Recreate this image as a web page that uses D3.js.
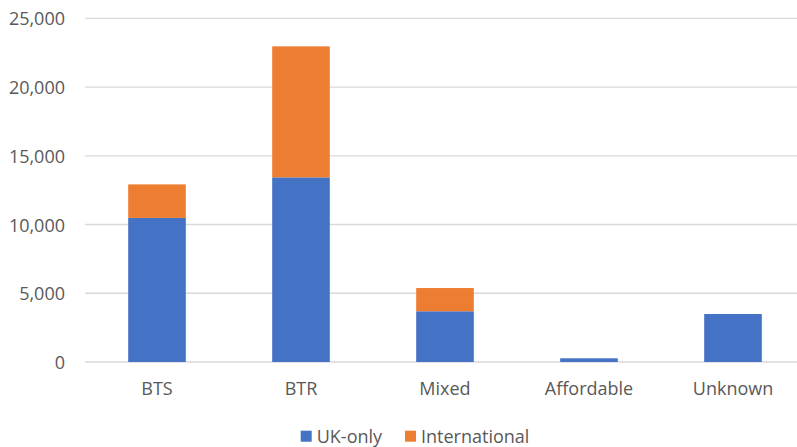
<!DOCTYPE html>
<html><head><meta charset="utf-8">
<script src="https://cdn.jsdelivr.net/npm/d3@7"></script>
<style>body{margin:0;background:#fff}svg{display:block}</style>
</head><body><svg id="c" width="797" height="447"></svg>
<script>
const categories = ["BTS", "BTR", "Mixed", "Affordable", "Unknown"];
const seriesNames = ["UK-only", "International"];
const ukOnly = [10480, 13430, 3690, 270, 3490];
const international = [2440, 9530, 1690, 0, 0];
const yTicks = [0, 5000, 10000, 15000, 20000, 25000];
const colors = ["#4472c4", "#ed7d31"];

const svg = d3.select("#c");
const font = "'Open Sans', 'Noto Sans', sans-serif";
const x = d3.scaleBand().domain(categories).range([85, 805]).paddingInner(0.6).paddingOuter(0.3);
const y = d3.scaleLinear().domain([0, 25000]).range([362, 18.3]);

const rows = categories.map((c, i) => ({cat: c, "UK-only": ukOnly[i], "International": international[i]}));
const stacked = d3.stack().keys(seriesNames)(rows);

// gridlines
svg.append("g").selectAll("line").data(yTicks).join("line")
  .attr("x1", 85).attr("x2", 797)
  .attr("y1", d => y(d)).attr("y2", d => y(d))
  .attr("stroke", "#d9d9d9").attr("stroke-width", 1.3);

// y axis labels
const yAxis = d3.axisLeft(y).tickValues(yTicks).tickFormat(d3.format(",")).tickSize(0).tickPadding(0);
const ya = svg.append("g").attr("transform", "translate(65,0)").call(yAxis);
ya.select(".domain").remove();
ya.selectAll("text").attr("font-family", font).attr("font-size", 18).attr("fill", "#595959").attr("dy", "0.36em");

// bars
svg.append("g").selectAll("g").data(stacked).join("g")
  .attr("fill", (d, i) => colors[i])
  .selectAll("rect").data(d => d).join("rect")
  .attr("x", d => x(d.data.cat))
  .attr("width", x.bandwidth())
  .attr("y", d => y(d[1]))
  .attr("height", d => y(d[0]) - y(d[1]));

// x axis labels
const xAxis = d3.axisBottom(x).tickSize(0).tickPadding(0);
const xa = svg.append("g").attr("transform", "translate(0,389)").call(xAxis);
xa.select(".domain").remove();
xa.selectAll("text").attr("font-family", font).attr("font-size", 18).attr("fill", "#595959").attr("dy", "0.36em");

// legend
const legendX = [300.7, 405];
const lg = svg.append("g").selectAll("g").data(seriesNames).join("g")
  .attr("transform", (d, i) => `translate(${legendX[i]},430.7)`);
lg.append("rect").attr("width", 11).attr("height", 11).attr("fill", (d, i) => colors[i]);
lg.append("text").attr("x", 16).attr("y", 5.5).attr("dy", "0.36em")
  .attr("font-family", font).attr("font-size", 18).attr("fill", "#595959").text(d => d);
</script></body></html>
